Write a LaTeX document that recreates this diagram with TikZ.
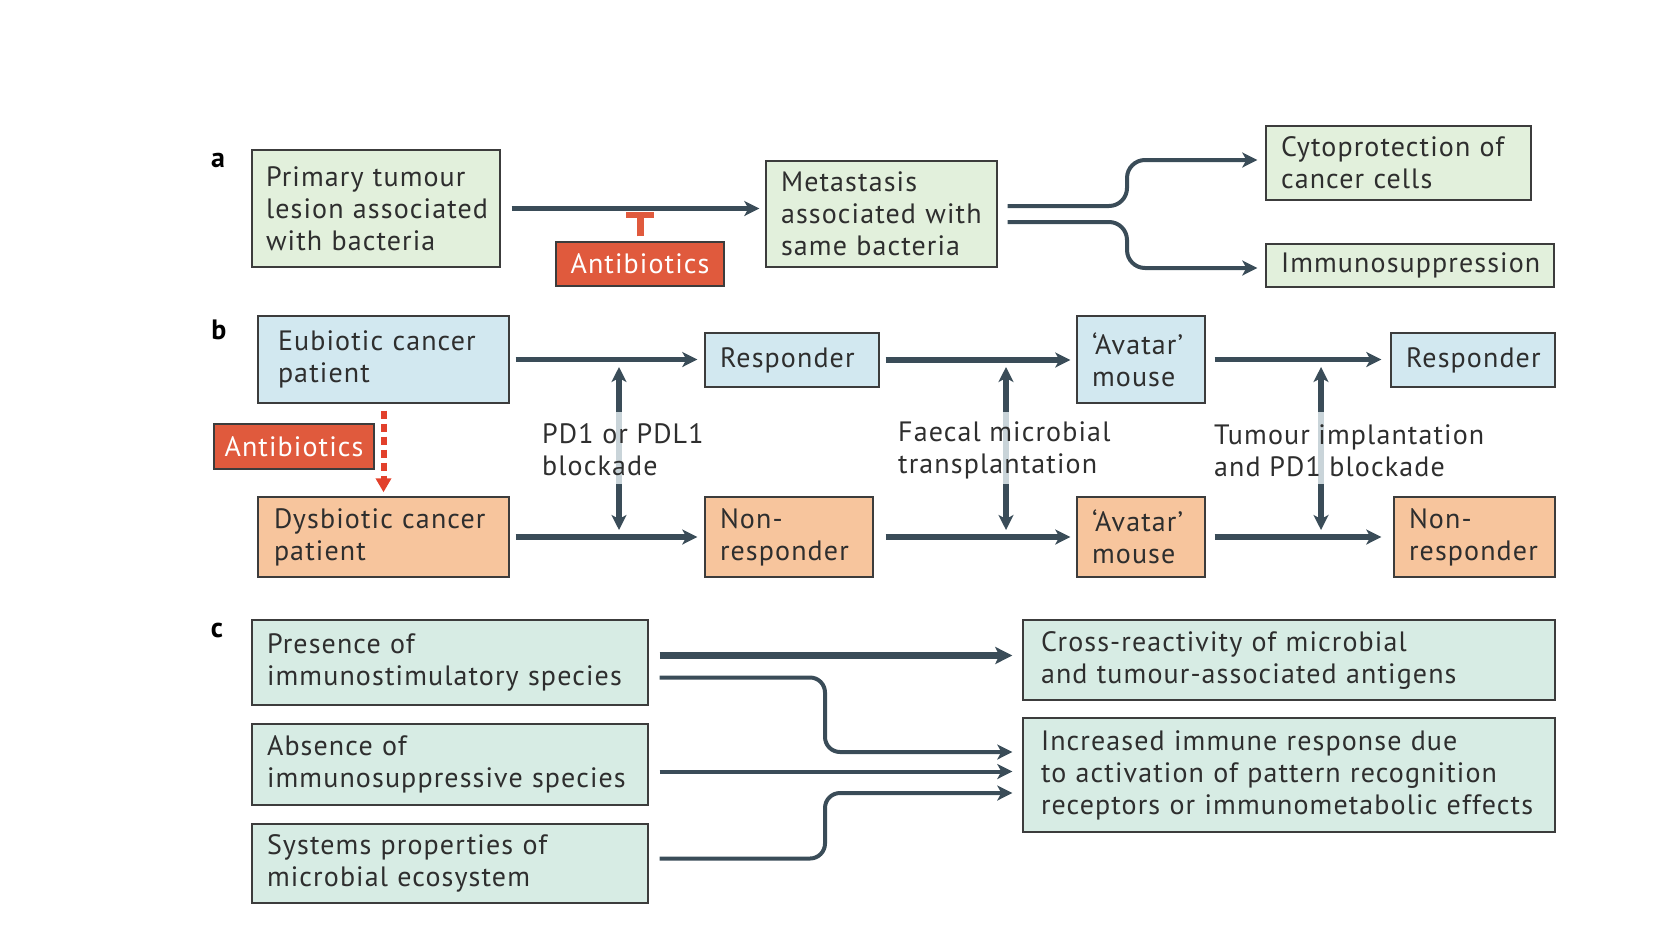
\documentclass[tikz,border=0pt]{standalone}
\usepackage{fontspec}
\setmainfont{PT Sans}[LetterSpace=4]
\usetikzlibrary{arrows.meta,calc}
\definecolor{gfill}{HTML}{E2F0DC}
\definecolor{bfill}{HTML}{D2E8F0}
\definecolor{ofill}{HTML}{F7C59D}
\definecolor{mfill}{HTML}{D7ECE4}
\definecolor{redc}{HTML}{E05A3D}
\definecolor{dashred}{HTML}{E2402B}
\definecolor{arrc}{HTML}{3A4C58}
\definecolor{bord}{HTML}{3C3C3C}
\definecolor{txt}{HTML}{2E2E2E}
\definecolor{lightseg}{HTML}{C9D4D9}
\begin{document}
\begin{tikzpicture}[x=1pt,y=-1pt,
  font=\fontsize{28}{32}\selectfont,
  box/.style={draw=bord, line width=1.4pt, inner xsep=15pt, inner ysep=3pt, align=left, text=txt,
    execute at begin node={\hyphenpenalty=10000\exhyphenpenalty=10000}},
  redbox/.style={draw=bord, line width=1.4pt, fill=redc, text=white, inner sep=0pt, align=center},
  lbl/.style={inner sep=0pt, align=left, text=txt},
  panel/.style={inner sep=0pt, font=\fontsize{28}{30}\selectfont\bfseries, text=black},
  tipA/.tip={Stealth[length=15pt,width=15pt,inset=4pt]},
  arrA/.style={draw=arrc, line width=4.5pt, -tipA},
  arrB/.style={draw=arrc, line width=5.5pt, -tipA},
  arrBB/.style={draw=arrc, line width=5.5pt, tipA-tipA},
  arrC/.style={draw=arrc, line width=4pt, -tipA},
  arrCC/.style={draw=arrc, line width=7.5pt, -{Stealth[length=17pt,width=17pt,inset=4pt]}},
]
\useasboundingbox (0,0) rectangle (1680,945);

% ---------- panel a ----------
\node[panel] (pa) at (218,160) {a};
\node[box, fill=gfill, inner xsep=14pt, text width=220pt, minimum height=117pt] (a1) at (376,208.5)
  {Primary tumour\\\mbox{lesion associated}\\with bacteria};
\node[box, fill=gfill, text width=201pt, minimum height=106pt] (a2) at (881.5,214)
  {Metastasis\\associated with\\same bacteria};
\node[box, fill=gfill, text width=235pt, minimum height=74pt] (a3) at (1398.5,163)
  {Cytoprotection of\\cancer cells};
\node[box, fill=gfill, text width=258pt, minimum height=43pt] (a4) at (1410,265.5)
  {Immunosuppression};
\node[redbox, minimum width=168pt, minimum height=44pt] (ab1) at (640,264) {Antibiotics};

\path (a1.east -| a2.west) coordinate (a2in);
\draw[arrA] ([xshift=11pt]a1.east) -- ([xshift=-6pt]a2in);
\draw[redc, line width=7pt] ([yshift=5pt]ab1.north) -- ([yshift=26pt]ab1.north);
\draw[redc, line width=6pt] ([xshift=-14pt,yshift=26pt]ab1.north) -- ([xshift=14pt,yshift=26pt]ab1.north);

\coordinate (ja) at (1127,0);
\coordinate (s1) at ([xshift=10pt,yshift=8pt]a2.east);
\coordinate (t1) at ([xshift=-8pt,yshift=3pt]a3.west);
\coordinate (s2) at ([xshift=10pt,yshift=-8pt]a2.east);
\coordinate (t2) at ([xshift=-8pt,yshift=-2.5pt]a4.west);
\draw[arrA, line width=4pt, rounded corners=18pt] (s1) -- (s1 -| ja) -- (ja |- t1) -- (t1);
\draw[arrA, line width=4pt, rounded corners=18pt] (s2) -- (s2 -| ja) -- (ja |- t2) -- (t2);

% ---------- panel b ----------
\node[panel] (pb) at (219,330) {b};
\node[box, fill=bfill, inner xsep=20pt, text width=211pt, minimum height=87pt] (eub) at (383.5,359.5)
  {Eubiotic cancer\\patient};
\node[box, fill=ofill, inner xsep=16pt, text width=219pt, minimum height=80pt] (dys) at (383.5,537)
  {Dysbiotic cancer\\patient};
\node[redbox, minimum width=160pt, minimum height=45pt] (ab2) at (294,446.5) {Antibiotics};
\node[box, fill=bfill, text width=144pt, minimum height=54pt] (r1) at (792,360) {Responder};
\node[box, fill=ofill, text width=138pt, minimum height=80pt] (nr1) at (789,537) {Non-\\responder};
\node[box, fill=bfill, text width=98pt, minimum height=87pt] (av1) at (1141,359.5) {‘Avatar’\\mouse};
\node[box, fill=ofill, text width=98pt, minimum height=80pt] (av2) at (1141,537) {‘Avatar’\\mouse};
\node[box, fill=bfill, text width=134pt, minimum height=54pt] (r2) at (1473,360) {Responder};
\node[box, fill=ofill, text width=131pt, minimum height=80pt] (nr2) at (1474.5,537) {Non-\\responder};

\draw[arrB] ([xshift=6pt]eub.east) -- ([xshift=-7pt]eub.east -| r1.west);
\draw[arrB] ([xshift=6pt]r1.east) -- ([xshift=-6pt]r1.east -| av1.west);
\draw[arrB] ([xshift=9pt]av1.east) -- ([xshift=-9pt]av1.east -| r2.west);
\draw[arrB] ([xshift=6pt]dys.east) -- ([xshift=-7pt]dys.east -| nr1.west);
\draw[arrB] ([xshift=12pt]nr1.east) -- ([xshift=-6pt]nr1.east -| av2.west);
\draw[arrB] ([xshift=9pt]av2.east) -- ([xshift=-12pt]av2.east -| nr2.west);

\draw[dashred, line width=6pt, dash pattern=on 8pt off 5pt, -{Triangle[length=14pt,width=15pt]}]
  ([yshift=-7pt]eub.south) -- ([yshift=4pt]dys.north);

\coordinate (v1a) at (619,367); \coordinate (v1b) at (619,530);
\coordinate (v2a) at (1006,367); \coordinate (v2b) at (1006,530);
\coordinate (v3a) at (1321,367); \coordinate (v3b) at (1321,530);
\draw[arrBB] (v1a) -- (v1b);
\draw[arrBB] (v2a) -- (v2b);
\draw[arrBB] (v3a) -- (v3b);
\draw[lightseg, line width=5.5pt] (619,412) -- (619,484);
\draw[lightseg, line width=5.5pt] (1006,412) -- (1006,484);
\draw[lightseg, line width=5.5pt] (1321,412) -- (1321,484);

\node[lbl, anchor=west] (l1) at (542,450) {PD1 or PDL1\\blockade};
\node[lbl, anchor=west] (l2) at (898,450) {Faecal microbial\\transplantation};
\node[lbl, anchor=west] (l3) at (1214,451) {Tumour implantation\\and PD1 blockade};

% ---------- panel c ----------
\node[panel] (pc) at (217,630) {c};
\node[box, fill=mfill, text width=366pt, minimum height=85pt] (pres) at (450,662.5)
  {Presence of\\immunostimulatory species};
\node[box, fill=mfill, text width=366pt, minimum height=81pt] (abs) at (450,764.5)
  {Absence of\\immunosuppressive species};
\node[box, fill=mfill, text width=366pt, minimum height=79pt] (sys) at (450,863.5)
  {Systems properties of\\microbial ecosystem};
\node[box, fill=mfill, inner xsep=18pt, text width=496pt, minimum height=80pt] (cross) at (1289,660)
  {Cross-reactivity of microbial\\and tumour-associated antigens};
\node[box, fill=mfill, inner xsep=18pt, text width=496pt, minimum height=114pt] (incr) at (1289,775)
  {Increased immune response due\\to activation of pattern recognition\\receptors or immunometabolic effects};

\coordinate (jc) at (825,0);
\coordinate (c1s) at ([xshift=11pt,yshift=7pt]pres.east);
\draw[arrCC] (c1s) -- ([xshift=-10pt]c1s -| cross.west);
\coordinate (c2s) at ([xshift=11pt,yshift=-15pt]pres.east);
\coordinate (c2t) at ([xshift=-10pt,yshift=23pt]incr.west);
\draw[arrC, rounded corners=15pt] (c2s) -- (c2s -| jc) -- (jc |- c2t) -- (c2t);
\coordinate (c3s) at ([xshift=11pt,yshift=-7pt]abs.east);
\draw[arrC] (c3s) -- ([xshift=-10pt]c3s -| incr.west);
\coordinate (c4s) at ([xshift=11pt,yshift=5pt]sys.east);
\coordinate (c4t) at ([xshift=-10pt,yshift=-18pt]incr.west);
\draw[arrC, rounded corners=15pt] (c4s) -- (c4s -| jc) -- (jc |- c4t) -- (c4t);
\end{tikzpicture}
\end{document}
